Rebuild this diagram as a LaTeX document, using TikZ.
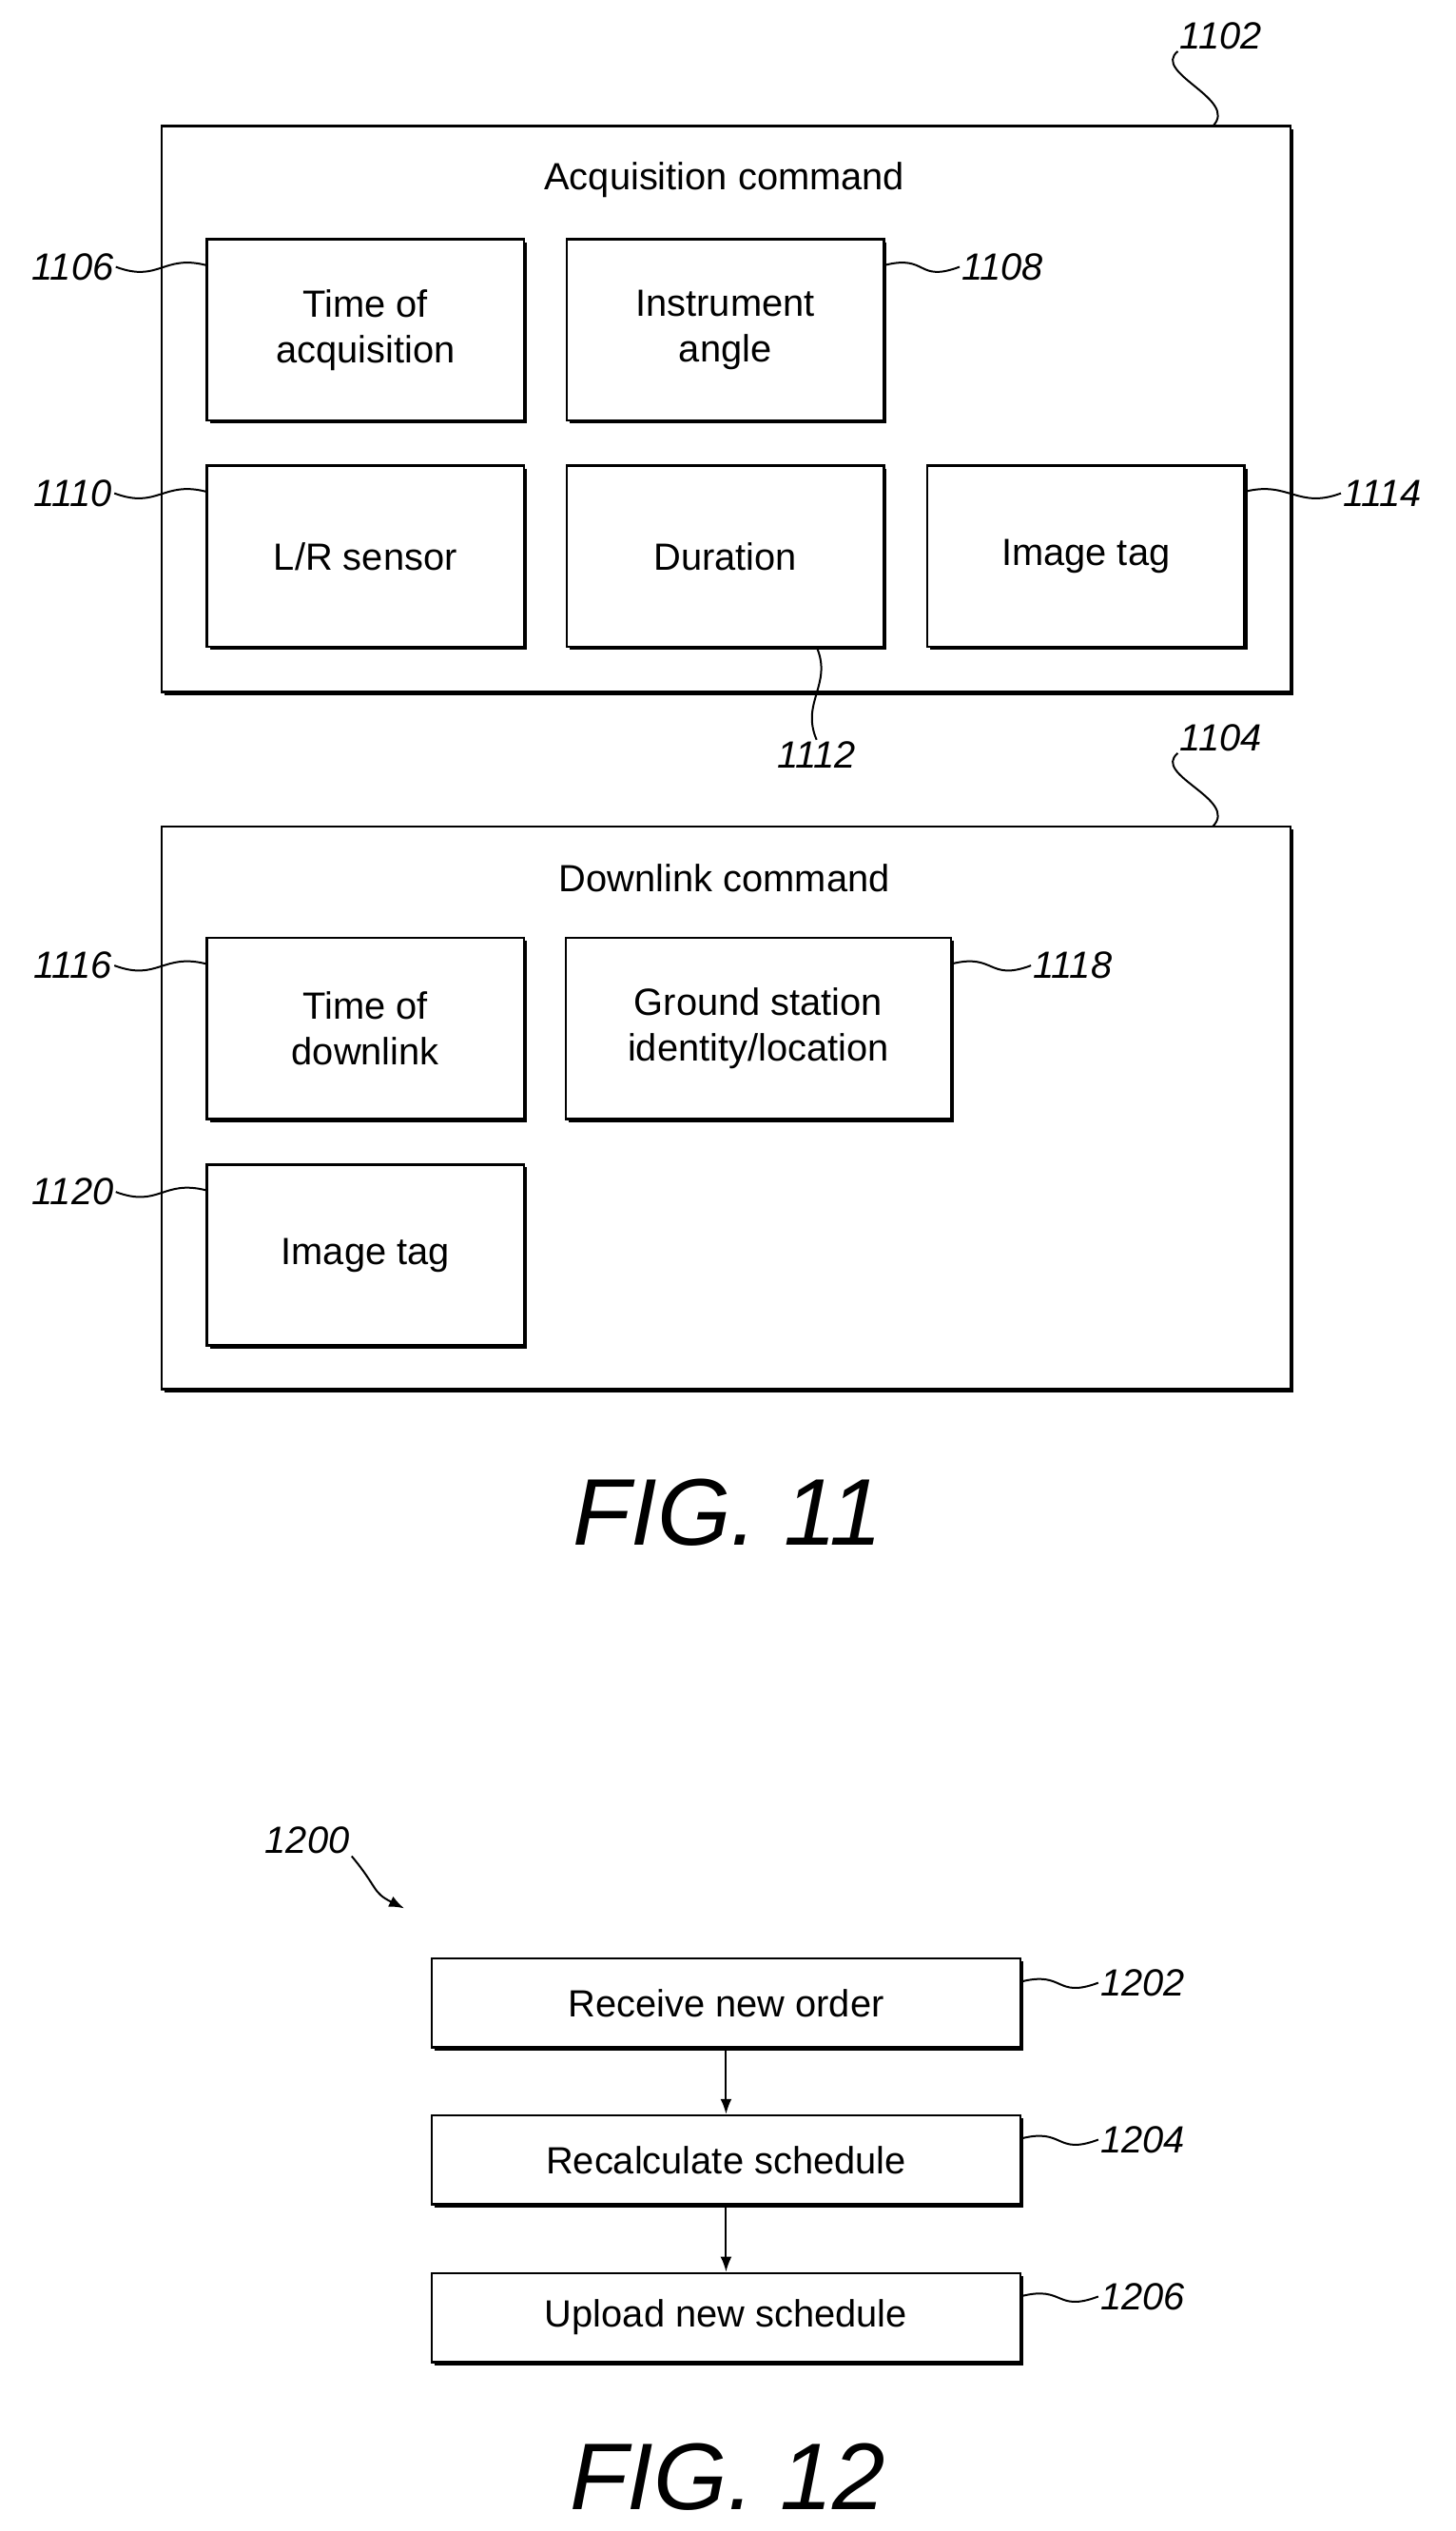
\documentclass[tikz,border=0pt]{standalone}
\usepackage{fontspec}
\setmainfont{Liberation Sans}
\usetikzlibrary{calc,shadows,arrows.meta}
\tikzset{
  box/.style={draw, line width=1.3pt, fill=white, align=center, font=\fontsize{20}{24}\selectfont,
    drop shadow={shadow xshift=1.6pt, shadow yshift=-1.6pt, fill=black, opacity=1}},
  field/.style={box, minimum width=5.88cm, minimum height=3.36cm},
  action/.style={box, minimum width=10.92cm, minimum height=1.65cm},
  ref/.style={font=\fontsize{20}{24}\selectfont\itshape, inner sep=1pt},
  lead/.style={line width=1pt},
  fig/.style={font=\fontsize{50}{56}\selectfont\itshape}
}
\begin{document}
\begin{tikzpicture}
  \useasboundingbox (0,0) rectangle (27,-46.95);

  % FIG. 11 - acquisition command
  \node[box, minimum width=20.94cm, minimum height=10.5cm] (b1102) at (13.47,-7.59) {};
  \node[font=\fontsize{20}{24}\selectfont] (t1102) at (13.44,-3.33) {Acquisition command};
  \node[field] (b1106) at (6.78,-6.12) {Time of\\acquisition};
  \node[field] (b1108) at (13.455,-6.12) {Instrument\\angle};
  \node[field] (b1110) at (6.78,-10.32) {L/R sensor};
  \node[field] (b1112) at (13.455,-10.32) {Duration};
  \node[field] (b1114) at (20.145,-10.32) {Image tag};

  % FIG. 11 - downlink command
  \node[box, minimum width=20.94cm, minimum height=10.44cm] (b1104) at (13.47,-20.55) {};
  \node[font=\fontsize{20}{24}\selectfont] (t1104) at (13.44,-16.29) {Downlink command};
  \node[field] (b1116) at (6.78,-19.08) {Time of\\downlink};
  \node[field, minimum width=7.14cm] (b1118) at (14.07,-19.08) {Ground station\\identity/location};
  \node[field] (b1120) at (6.78,-23.28) {Image tag};

  \node[fig] (f11) at (13.5,-28.05) {FIG. 11};

  % Reference numerals.
  \node[ref] (l1102) at (22.65,-0.66) {1102};
  \node[ref] (l1104) at (22.65,-13.68) {1104};
  \node[ref] (l1106) at (1.35,-4.95) {1106};
  \node[ref] (l1108) at (18.6,-4.95) {1108};
  \node[ref] (l1110) at (1.35,-9.15) {1110};
  \node[ref] (l1112) at (15.15,-14.01) {1112};
  \node[ref] (l1114) at (25.65,-9.15) {1114};
  \node[ref] (l1116) at (1.35,-17.91) {1116};
  \node[ref] (l1118) at (19.9,-17.91) {1118};
  \node[ref] (l1120) at (1.35,-22.11) {1120};

  \coordinate (c1102) at (22.5,-2.34);
  \coordinate (c1104) at (22.5,-15.33);
  \coordinate (c1112) at (15.15,-12.0);
  \draw[lead] (l1102.south west) .. controls +(-0.5,-0.4) and +(0.5,0.5) .. (c1102);
  \draw[lead] (l1104.south west) .. controls +(-0.5,-0.4) and +(0.5,0.5) .. (c1104);
  \draw[lead] (l1112.north) .. controls +(-0.3,0.7) and +(0.3,-0.7) .. (c1112);
  \draw[lead] (l1106.east) .. controls +(0.8,-0.3) and +(-0.8,0.2) .. ($(b1106.north west)+(0,-0.5)$);
  \draw[lead] (l1110.east) .. controls +(0.8,-0.3) and +(-0.8,0.2) .. ($(b1110.north west)+(0,-0.5)$);
  \draw[lead] (l1116.east) .. controls +(0.8,-0.3) and +(-0.8,0.2) .. ($(b1116.north west)+(0,-0.5)$);
  \draw[lead] (l1120.east) .. controls +(0.8,-0.3) and +(-0.8,0.2) .. ($(b1120.north west)+(0,-0.5)$);
  \draw[lead] (l1108.west) .. controls +(-0.8,-0.3) and +(0.8,0.2) .. ($(b1108.north east)+(0,-0.5)$);
  \draw[lead] (l1114.west) .. controls +(-0.8,-0.3) and +(0.8,0.2) .. ($(b1114.north east)+(0,-0.5)$);
  \draw[lead] (l1118.west) .. controls +(-0.8,-0.3) and +(0.8,0.2) .. ($(b1118.north east)+(0,-0.5)$);

  % FIG. 12
  \node[action] (s1202) at (13.47,-37.155) {Receive new order};
  \node[action] (s1204) at (13.47,-40.065) {Recalculate schedule};
  \node[action] (s1206) at (13.47,-42.99) {Upload new schedule};
  \draw[lead, -{Latex[length=8pt,width=6pt]}] (s1202) -- (s1204);
  \draw[lead, -{Latex[length=8pt,width=6pt]}] (s1204) -- (s1206);

  \node[ref] (l1200) at (5.7,-34.14) {1200};
  \node[ref] (l1202) at (21.2,-36.78) {1202};
  \node[ref] (l1204) at (21.2,-39.69) {1204};
  \node[ref] (l1206) at (21.2,-42.6) {1206};
  \coordinate (c1200) at (7.5,-35.4);
  \draw[lead, -{Latex[length=8pt,width=6pt]}] (l1200.south east) .. controls +(0.5,-0.6) and +(-0.6,0.3) .. (c1200);
  \draw[lead] (l1202.west) .. controls +(-0.8,-0.3) and +(0.8,0.2) .. ($(s1202.north east)+(0,-0.45)$);
  \draw[lead] (l1204.west) .. controls +(-0.8,-0.3) and +(0.8,0.2) .. ($(s1204.north east)+(0,-0.45)$);
  \draw[lead] (l1206.west) .. controls +(-0.8,-0.3) and +(0.8,0.2) .. ($(s1206.north east)+(0,-0.45)$);

  \node[fig] (f12) at (13.5,-45.95) {FIG. 12};
\end{tikzpicture}
\end{document}
